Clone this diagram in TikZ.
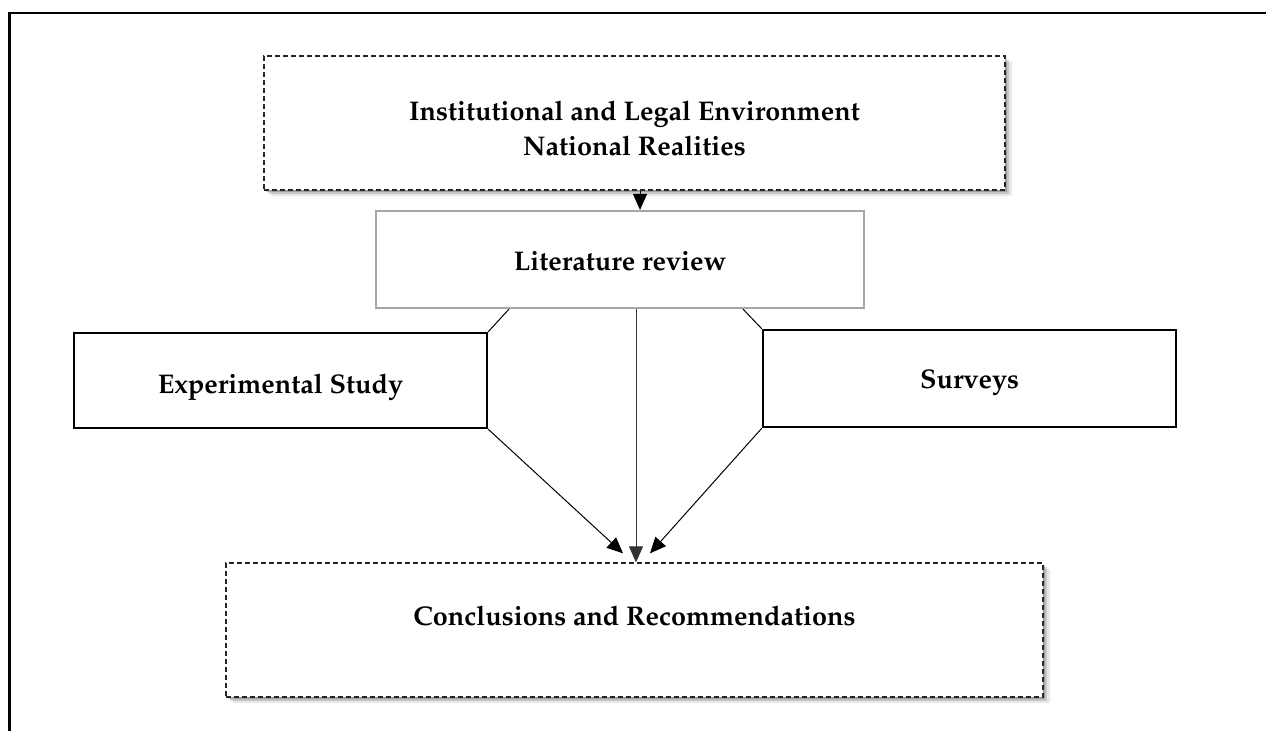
\documentclass[tikz,border=0pt]{standalone}
\usepackage[T1]{fontenc}
\renewcommand{\rmdefault}{ppl}
\usetikzlibrary{arrows.meta,shadows,calc}
\begin{document}
\begin{tikzpicture}[x=1pt,y=-1pt,
  softshadow/.style={
    drop shadow={shadow xshift=2pt,shadow yshift=-2pt,fill=black,opacity=0.2},
    drop shadow={shadow xshift=4pt,shadow yshift=-4pt,fill=black,opacity=0.15},
    drop shadow={shadow xshift=6.5pt,shadow yshift=-6pt,fill=black,opacity=0.09}},
  box/.style={rectangle, inner sep=0pt, font=\bfseries\fontsize{27}{35}\selectfont},
  dashbox/.style={box, softshadow, draw=black!85, fill=white, line width=1.3pt, dash pattern=on 5pt off 3pt},
  solidbox/.style={box, draw=black, line width=2.4pt},
  greybox/.style={box, draw=black!35, line width=2.2pt},
  conn/.style={draw=black, line width=1pt},
  arr/.style={conn, -{Triangle[length=16pt,width=14pt]}}
]
\useasboundingbox (0,0) rectangle (1266,731);
\fill[white] (0,0) rectangle (1266,731);

% frame
\draw[line width=2.6pt] (9.5,731) -- (9.5,13) -- (1266,13);

% boxes
\node[dashbox, minimum width=741pt, minimum height=134pt] (top) at (634.5,123)
  {\raisebox{0pt}[64pt][0pt]{\begin{tabular}[b]{@{}c@{}}Institutional and Legal Environment\\National Realities\end{tabular}}};
\node[greybox, minimum width=488pt, minimum height=97pt, text height=21pt, text depth=0pt] (lit) at (620,259.5) {Literature review};
\node[solidbox, minimum width=413pt, minimum height=95pt, text height=25pt, text depth=0pt] (exp) at (280.5,380.5) {Experimental Study};
\node[solidbox, minimum width=413pt, minimum height=97pt, text height=19pt, text depth=0pt] (sur) at (969.5,378.5) {Surveys};
\node[dashbox, minimum width=817pt, minimum height=134pt, text height=0pt, text depth=10pt] (conc) at (634.5,630) {Conclusions and Recommendations};

% connectors
\draw[arr] ([xshift=5.5pt]top.south) -- ([xshift=20pt]lit.north);
\draw[conn] ([xshift=-111pt]lit.south) -- (exp.north east);
\draw[conn] ([xshift=123pt]lit.south) -- (sur.north west);
\draw[arr, draw=black!80] ([xshift=16pt]lit.south) -- ([xshift=1.5pt]conc.north);
\coordinate (ltip) at ([xshift=-11.5pt,yshift=9pt]conc.north);
\coordinate (rtip) at ([xshift=15.5pt,yshift=9pt]conc.north);
\draw[arr] (exp.south east) -- (ltip);
\draw[arr] (sur.south west) -- (rtip);
\end{tikzpicture}
\end{document}
